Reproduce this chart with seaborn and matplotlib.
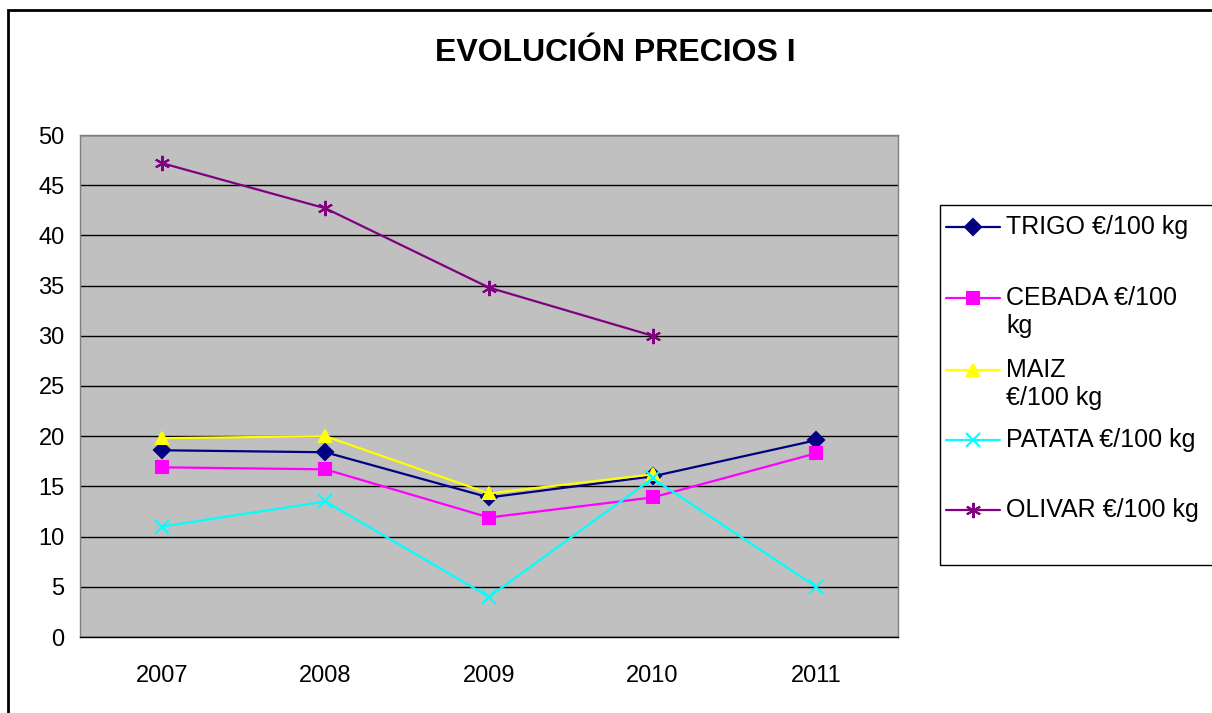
import numpy as np
import pandas as pd
import seaborn as sns
import matplotlib.pyplot as plt
from matplotlib.patches import Rectangle
from matplotlib.lines import Line2D
from matplotlib.ticker import FixedLocator

# Datos
years = ["2007", "2008", "2009", "2010", "2011"]
trigo = [18.6, 18.4, 13.9, 16.0, 19.6]
cebada = [16.9, 16.7, 11.9, 13.9, 18.3]
maiz = [19.8, 20.0, 14.3, 16.2, np.nan]
patata = [11.0, 13.5, 4.0, 15.8, 5.0]
olivar = [47.2, 42.7, 34.8, 30.0, np.nan]

series_names = ["TRIGO €/100 kg", "CEBADA €/100 kg", "MAIZ €/100 kg",
                "PATATA €/100 kg", "OLIVAR €/100 kg"]
legend_labels = ["TRIGO €/100 kg", "CEBADA €/100\nkg", "MAIZ\n€/100 kg",
                 "PATATA €/100 kg", "OLIVAR €/100 kg"]
colors = ["#000080", "#FF00FF", "#FFFF00", "#00FFFF", "#800080"]
markers = ["D", "s", "^", "x", (6, 2, 0)]
msizes = [8, 9, 9, 10, 11]

sns.set_style("white")
plt.rcParams['font.family'] = ['Liberation Sans', 'DejaVu Sans']
plt.rcParams['text.color'] = 'black'
plt.rcParams['xtick.color'] = 'black'
plt.rcParams['ytick.color'] = 'black'

W, H = 1212, 713
fig = plt.figure(figsize=(W / 100, H / 100), dpi=100)
ax = fig.add_axes([80 / W, 1 - 637 / H, 818 / W, 502 / H])
ax.set_facecolor("#C0C0C0")

# una llamada por serie (seaborn no mezcla marcadores rellenos y de línea)
for name, vals, c, m, ms in zip(series_names, [trigo, cebada, maiz, patata, olivar],
                                colors, markers, msizes):
    d = pd.DataFrame({"pos": range(len(years)), "valor": vals}).dropna()
    sns.lineplot(data=d, x="pos", y="valor", color=c, marker=m, markersize=ms,
                 markeredgecolor=c, markerfacecolor=c, markeredgewidth=1.5,
                 linewidth=1.6, ax=ax)

ax.set_xlim(-0.5, 4.5)
ax.set_ylim(0, 50)
ax.set_yticks(np.arange(0, 51, 5))
ax.set_xticks(range(len(years)))
ax.set_xticklabels(years)
ax.xaxis.set_minor_locator(FixedLocator(np.arange(-0.5, 4.6, 1)))
ax.tick_params(axis="x", which="major", length=0, pad=20, labelsize=17)
ax.tick_params(axis="x", which="minor", length=7, width=1, color="black", direction="out")
ax.tick_params(axis="y", length=7, width=1, color="black", direction="out", labelsize=17, pad=4)
ax.set_xlabel("")
ax.set_ylabel("")
ax.grid(axis="y", color="black", linewidth=1)
ax.set_axisbelow(True)
for s in ["top", "right", "left"]:
    ax.spines[s].set_color("#808080")
    ax.spines[s].set_linewidth(1)
ax.spines["bottom"].set_color("black")
ax.spines["bottom"].set_linewidth(1)

fig.text(615 / W, 1 - 53 / H, "EVOLUCIÓN PRECIOS I", ha="center", va="center",
         fontsize=23, fontweight="bold")

# ---- leyenda al estilo Excel (entradas equiespaciadas, marcador en la 1a línea)
fig.patches.append(Rectangle((940 / W, 1 - 565 / H), 0.5, 360 / H,
                             transform=fig.transFigure, fill=False,
                             edgecolor="black", linewidth=1))
entry_y = [227, 298, 370, 440, 510]
for line, lab, yy in zip(ax.get_lines(), legend_labels, entry_y):
    fy = 1 - yy / H
    fig.add_artist(Line2D([946 / W, 1000 / W], [fy, fy], transform=fig.transFigure,
                          color=line.get_color(), linewidth=1.6))
    fig.add_artist(Line2D([973 / W], [fy], transform=fig.transFigure,
                          linestyle="none", marker=line.get_marker(),
                          markersize=line.get_markersize(),
                          markerfacecolor=line.get_color(),
                          markeredgecolor=line.get_color(), markeredgewidth=1.5))
    for k, txt in enumerate(lab.split("\n")):
        fig.text(1006 / W, 1 - (yy + 28 * k) / H, txt, ha="left", va="center",
                 fontsize=18)

# marco del gráfico (solo borde izquierdo y superior visibles)
fig.patches.append(Rectangle((8 / W, -0.5), 1.2, 1.5 - 10 / H,
                             transform=fig.transFigure, fill=False,
                             edgecolor="black", linewidth=2))

fig.savefig("out.png", dpi=100)
